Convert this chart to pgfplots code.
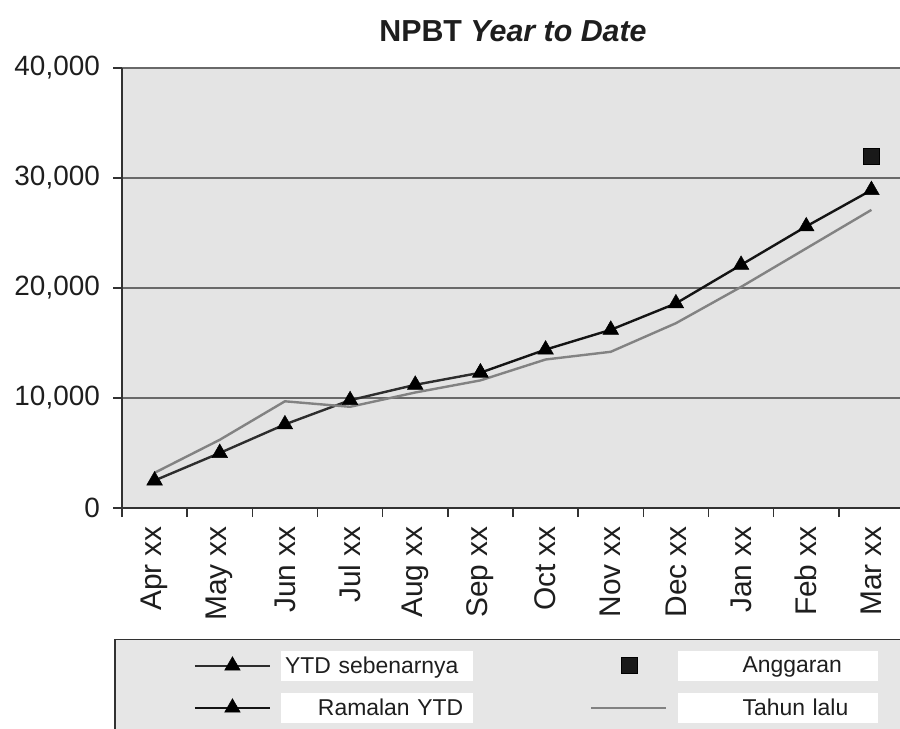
\documentclass[border=0pt]{standalone}
\usepackage{fontspec}
\setmainfont{Liberation Sans}
\usepackage{pgfplots}
\pgfplotsset{compat=1.18}
\definecolor{plotbg}{RGB}{228,228,228}
\definecolor{legbg}{RGB}{230,230,230}
\definecolor{gridc}{RGB}{105,105,105}
\definecolor{axisc}{RGB}{50,50,50}
\definecolor{lastyr}{RGB}{130,130,130}
\definecolor{fcst}{RGB}{20,20,20}
\definecolor{actual}{RGB}{45,45,45}
\definecolor{txt}{RGB}{30,30,30}
\pgfplotsset{
  myimg/.style={legend image code/.code={\path (-10bp,0bp) (85bp,0bp);
    \draw[##1,mark repeat=2,mark phase=2] plot coordinates {(0bp,0bp) (37.5bp,0bp) (75bp,0bp)};}},
}
\tikzset{
  legA/.style={fill=white, inner xsep=4bp, inner ysep=0pt, text width=184bp, align=left, minimum height=30bp},
  legB/.style={fill=white, inner xsep=10bp, inner ysep=0pt, text width=172bp, align=right, minimum height=30bp},
  legC/.style={fill=white, inner xsep=0bp, inner ysep=0pt, text width=200bp, align=left, minimum height=30bp},
}
\begin{document}
\begin{tikzpicture}
\useasboundingbox (0,0) rectangle (900bp,729bp);
\clip (0,0) rectangle (900bp,729bp);
\begin{axis}[
  at={(122bp,221bp)}, anchor=south west,
  scale only axis, width=782bp, height=440bp,
  xmin=-0.5, xmax=11.5, ymin=0, ymax=40000,
  scaled y ticks=false,
  axis background/.style={fill=plotbg},
  axis lines=left,
  axis line style={-, draw=axisc, line width=2bp},
  tick align=outside,
  major tick length=9bp, minor tick length=9bp,
  tick style={draw=axisc, line width=1.6bp},
  xtick={0,...,11},
  xticklabels={Apr xx,May xx,Jun xx,Jul xx,Aug xx,Sep xx,Oct xx,Nov xx,Dec xx,Jan xx,Feb xx,Mar xx},
  every major x tick/.append style={draw=none},
  minor xtick={-0.5,0.5,...,11.5},
  ytick={0,10000,20000,30000,40000},
  yticklabels={0,{10,000},{20,000},{30,000},{40,000}},
  ymajorgrids,
  grid style={draw=gridc, line width=1.8bp},
  y tick label style={font=\fontsize{28}{30}\selectfont, text=txt, anchor=east, inner sep=0pt, xshift=-13bp},
  x tick label style={font=\fontsize{30}{32}\selectfont, text=txt, rotate=90, anchor=east, inner sep=0pt, xshift=-9bp},
  title={\textbf{NPBT \textit{Year to Date}}},
  title style={font=\fontsize{30.5}{33}\selectfont, text=txt, at={(axis description cs:0.5,1)}, anchor=base, yshift=21bp},
  legend columns=2,
  legend cell align=left,
  legend style={
    at={(axis description cs:-0.01023,-0.2977)}, anchor=north west,
    fill=legbg, draw=axisc, line width=1.5bp,
    inner xsep=69bp, inner ysep=11bp,
    row sep=12bp,
    font=\fontsize{23}{25}\selectfont, text=txt,
    /tikz/every even column/.append style={column sep=107bp},
  },
]
\addplot[actual, line width=2.4bp, mark=triangle*, mark size=9bp,
  mark options={fill=black, draw=black, line width=0.5bp}, myimg]
  coordinates {(0,2500) (1,5000) (2,7600) (3,9800) (4,11200) (5,12300)};
\addlegendentry[legA]{YTD sebenarnya}
\addplot[only marks, mark=square*, mark size=8bp,
  mark options={fill=black!90, draw=black, line width=0.5bp}, myimg]
  coordinates {(11,32000)};
\addlegendentry[legC]{\hspace*{65bp}Anggaran}
\addplot[fcst, line width=2.4bp, mark=triangle*, mark size=9bp,
  mark options={fill=black, draw=black, line width=0.5bp}, myimg]
  coordinates {(5,12300) (6,14400) (7,16200) (8,18600) (9,22100) (10,25600) (11,28900)};
\addlegendentry[legB]{Ramalan YTD}
\addplot[lastyr, line width=2.4bp, no marks, myimg]
  coordinates {(0,3200) (1,6200) (2,9700) (3,9200) (4,10500) (5,11600) (6,13500) (7,14200) (8,16800) (9,20100) (10,23600) (11,27100)};
\addlegendentry[legC]{\hspace*{65bp}Tahun lalu}
\end{axis}
\end{tikzpicture}
\end{document}
